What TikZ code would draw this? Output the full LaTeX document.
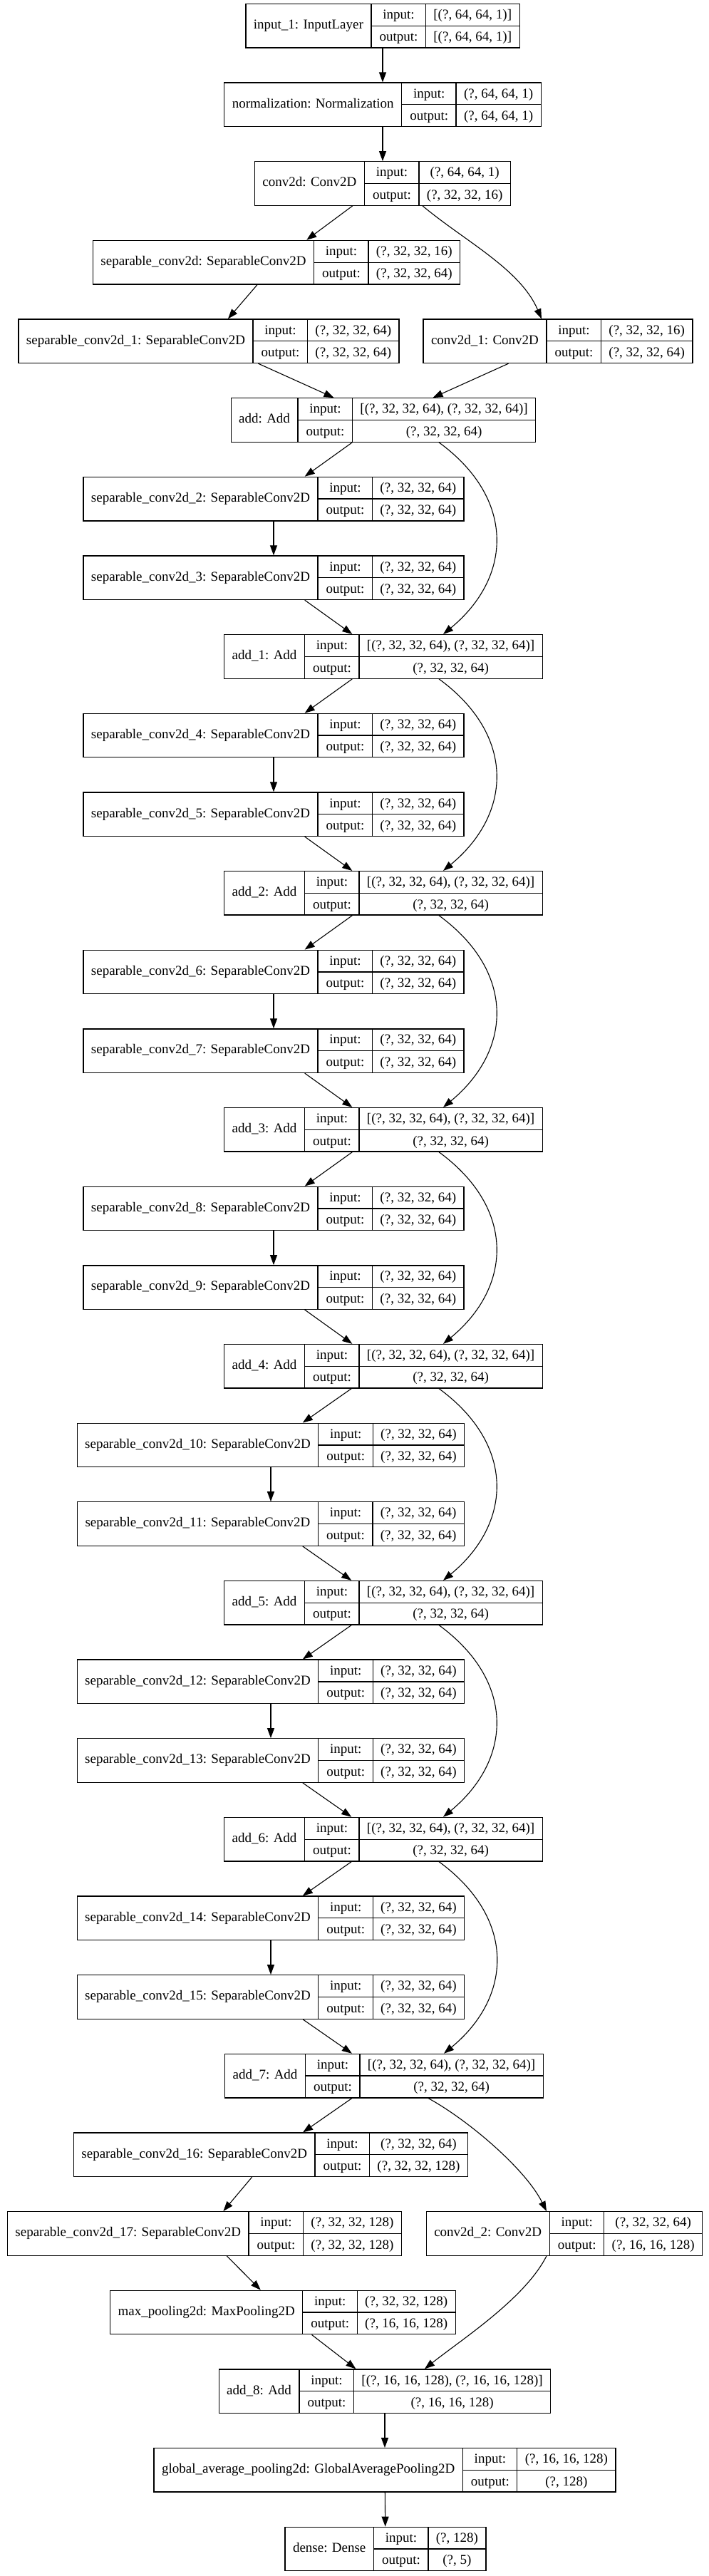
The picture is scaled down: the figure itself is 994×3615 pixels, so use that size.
\documentclass[tikz,border=0pt]{standalone}
\usepackage{fontspec}
\setmainfont{Liberation Serif}
\usetikzlibrary{arrows.meta}
\setlength{\tabcolsep}{11pt}
\setlength{\arrayrulewidth}{1.3pt}
\renewcommand{\arraystretch}{1.32}
% name | input:/output: | shapes
\newcommand{\layerrec}[3]{%
  \begin{tabular}{c|@{}c@{}}
    #1 & \begin{tabular}{c|c} input: & #2 \\ \hline output: & #3 \end{tabular}
  \end{tabular}}
\tikzset{
        % Layer records
        node_layer/.style={rectangle, draw=black, inner sep=0pt, line width=1.3pt, font=\fontsize{19}{22.8}\selectfont},
        % Skip connections
        edge_skip/.style={line width=1.1pt}
}

\begin{document}
\begin{tikzpicture}[
            x=1pt, y=-1pt,
            ->, >={Triangle[length=14pt,width=10pt]},
            line width=1.1pt
        ]
            \useasboundingbox (0,0) rectangle (994,3615);
            \node[node_layer] (input_1) at (537,36.2) {\layerrec{input\_1: InputLayer}{[(?, 64, 64, 1)]}{[(?, 64, 64, 1)]}};
            \node[node_layer] (norm) at (537,146.85) {\layerrec{normalization: Normalization}{(?, 64, 64, 1)}{(?, 64, 64, 1)}};
            \node[node_layer] (conv) at (537,257.5) {\layerrec{conv2d: Conv2D}{(?, 64, 64, 1)}{(?, 32, 32, 16)}};
            \node[node_layer] (sep) at (388,368.15) {\layerrec{separable\_conv2d: SeparableConv2D}{(?, 32, 32, 16)}{(?, 32, 32, 64)}};
            \node[node_layer] (sep_1) at (293,478.8) {\layerrec{separable\_conv2d\_1: SeparableConv2D}{(?, 32, 32, 64)}{(?, 32, 32, 64)}};
            \node[node_layer] (conv_1) at (783,478.8) {\layerrec{conv2d\_1: Conv2D}{(?, 32, 32, 16)}{(?, 32, 32, 64)}};
            \node[node_layer] (add) at (538,589.45) {\layerrec{add: Add}{[(?, 32, 32, 64), (?, 32, 32, 64)]}{(?, 32, 32, 64)}};
            % residual blocks
            \node[node_layer] (sep_2) at (384,700.1) {\layerrec{separable\_conv2d\_2: SeparableConv2D}{(?, 32, 32, 64)}{(?, 32, 32, 64)}};
            \node[node_layer] (sep_3) at (384,810.75) {\layerrec{separable\_conv2d\_3: SeparableConv2D}{(?, 32, 32, 64)}{(?, 32, 32, 64)}};
            \node[node_layer] (add_1) at (538,921.4) {\layerrec{add\_1: Add}{[(?, 32, 32, 64), (?, 32, 32, 64)]}{(?, 32, 32, 64)}};
            \node[node_layer] (sep_4) at (384,1032.05) {\layerrec{separable\_conv2d\_4: SeparableConv2D}{(?, 32, 32, 64)}{(?, 32, 32, 64)}};
            \node[node_layer] (sep_5) at (384,1142.7) {\layerrec{separable\_conv2d\_5: SeparableConv2D}{(?, 32, 32, 64)}{(?, 32, 32, 64)}};
            \node[node_layer] (add_2) at (538,1253.35) {\layerrec{add\_2: Add}{[(?, 32, 32, 64), (?, 32, 32, 64)]}{(?, 32, 32, 64)}};
            \node[node_layer] (sep_6) at (384,1364) {\layerrec{separable\_conv2d\_6: SeparableConv2D}{(?, 32, 32, 64)}{(?, 32, 32, 64)}};
            \node[node_layer] (sep_7) at (384,1474.65) {\layerrec{separable\_conv2d\_7: SeparableConv2D}{(?, 32, 32, 64)}{(?, 32, 32, 64)}};
            \node[node_layer] (add_3) at (538,1585.3) {\layerrec{add\_3: Add}{[(?, 32, 32, 64), (?, 32, 32, 64)]}{(?, 32, 32, 64)}};
            \node[node_layer] (sep_8) at (384,1695.95) {\layerrec{separable\_conv2d\_8: SeparableConv2D}{(?, 32, 32, 64)}{(?, 32, 32, 64)}};
            \node[node_layer] (sep_9) at (384,1806.6) {\layerrec{separable\_conv2d\_9: SeparableConv2D}{(?, 32, 32, 64)}{(?, 32, 32, 64)}};
            \node[node_layer] (add_4) at (538,1917.25) {\layerrec{add\_4: Add}{[(?, 32, 32, 64), (?, 32, 32, 64)]}{(?, 32, 32, 64)}};
            \node[node_layer] (sep_10) at (380,2027.9) {\layerrec{separable\_conv2d\_10: SeparableConv2D}{(?, 32, 32, 64)}{(?, 32, 32, 64)}};
            \node[node_layer] (sep_11) at (380,2138.55) {\layerrec{separable\_conv2d\_11: SeparableConv2D}{(?, 32, 32, 64)}{(?, 32, 32, 64)}};
            \node[node_layer] (add_5) at (538,2249.2) {\layerrec{add\_5: Add}{[(?, 32, 32, 64), (?, 32, 32, 64)]}{(?, 32, 32, 64)}};
            \node[node_layer] (sep_12) at (380,2359.85) {\layerrec{separable\_conv2d\_12: SeparableConv2D}{(?, 32, 32, 64)}{(?, 32, 32, 64)}};
            \node[node_layer] (sep_13) at (380,2470.5) {\layerrec{separable\_conv2d\_13: SeparableConv2D}{(?, 32, 32, 64)}{(?, 32, 32, 64)}};
            \node[node_layer] (add_6) at (538,2581.15) {\layerrec{add\_6: Add}{[(?, 32, 32, 64), (?, 32, 32, 64)]}{(?, 32, 32, 64)}};
            \node[node_layer] (sep_14) at (380,2691.8) {\layerrec{separable\_conv2d\_14: SeparableConv2D}{(?, 32, 32, 64)}{(?, 32, 32, 64)}};
            \node[node_layer] (sep_15) at (380,2802.45) {\layerrec{separable\_conv2d\_15: SeparableConv2D}{(?, 32, 32, 64)}{(?, 32, 32, 64)}};
            \node[node_layer] (add_7) at (539,2913.1) {\layerrec{add\_7: Add}{[(?, 32, 32, 64), (?, 32, 32, 64)]}{(?, 32, 32, 64)}};
            % downsampling head
            \node[node_layer] (sep_16) at (380,3023.75) {\layerrec{separable\_conv2d\_16: SeparableConv2D}{(?, 32, 32, 64)}{(?, 32, 32, 128)}};
            \node[node_layer] (sep_17) at (287,3134.4) {\layerrec{separable\_conv2d\_17: SeparableConv2D}{(?, 32, 32, 128)}{(?, 32, 32, 128)}};
            \node[node_layer] (conv_2) at (792,3134.4) {\layerrec{conv2d\_2: Conv2D}{(?, 32, 32, 64)}{(?, 16, 16, 128)}};
            \node[node_layer] (pool) at (397,3245.05) {\layerrec{max\_pooling2d: MaxPooling2D}{(?, 32, 32, 128)}{(?, 16, 16, 128)}};
            \node[node_layer] (add_8) at (540,3355.7) {\layerrec{add\_8: Add}{[(?, 16, 16, 128), (?, 16, 16, 128)]}{(?, 16, 16, 128)}};
            \node[node_layer] (gap) at (540,3466.35) {\layerrec{global\_average\_pooling2d: GlobalAveragePooling2D}{(?, 16, 16, 128)}{(?, 128)}};
            \node[node_layer] (dense) at (541,3577) {\layerrec{dense: Dense}{(?, 128)}{(?, 5)}};

            \draw (input_1) -- (norm);
            \draw (norm) -- (conv);
            \draw (conv) -- (sep);
            \draw[edge_skip] ([xshift=56pt]conv.south) .. controls +(60,50) and +(-30,-70) .. ([xshift=-23pt]conv_1.north);
            \draw (sep) -- (sep_1);
            \draw (sep_1) -- (add);
            \draw (conv_1) -- (add);

            \draw (add) -- (sep_2);
            \draw (sep_2) -- (sep_3);
            \draw (sep_3) -- (add_1);
            \draw[edge_skip] ([xshift=78pt]add.south) .. controls +(108,79) and +(97,-80) .. ([xshift=84pt]add_1.north);
            \draw (add_1) -- (sep_4);
            \draw (sep_4) -- (sep_5);
            \draw (sep_5) -- (add_2);
            \draw[edge_skip] ([xshift=78pt]add_1.south) .. controls +(108,79) and +(97,-80) .. ([xshift=84pt]add_2.north);
            \draw (add_2) -- (sep_6);
            \draw (sep_6) -- (sep_7);
            \draw (sep_7) -- (add_3);
            \draw[edge_skip] ([xshift=78pt]add_2.south) .. controls +(108,79) and +(97,-80) .. ([xshift=84pt]add_3.north);
            \draw (add_3) -- (sep_8);
            \draw (sep_8) -- (sep_9);
            \draw (sep_9) -- (add_4);
            \draw[edge_skip] ([xshift=78pt]add_3.south) .. controls +(108,79) and +(97,-80) .. ([xshift=84pt]add_4.north);
            \draw (add_4) -- (sep_10);
            \draw (sep_10) -- (sep_11);
            \draw (sep_11) -- (add_5);
            \draw[edge_skip] ([xshift=78pt]add_4.south) .. controls +(108,79) and +(97,-80) .. ([xshift=84pt]add_5.north);
            \draw (add_5) -- (sep_12);
            \draw (sep_12) -- (sep_13);
            \draw (sep_13) -- (add_6);
            \draw[edge_skip] ([xshift=78pt]add_5.south) .. controls +(108,79) and +(97,-80) .. ([xshift=84pt]add_6.north);
            \draw (add_6) -- (sep_14);
            \draw (sep_14) -- (sep_15);
            \draw (sep_15) -- (add_7);
            \draw[edge_skip] ([xshift=78pt]add_6.south) .. controls +(108,79) and +(97,-80) .. ([xshift=84pt]add_7.north);

            \draw (add_7) -- (sep_16);
            \draw (sep_16) -- (sep_17);
            \draw[edge_skip] ([xshift=62pt]add_7.south) .. controls +(55,30) and +(-30,-60) .. ([xshift=-25pt]conv_2.north);
            \draw (sep_17) -- (pool);
            \draw (pool) -- (add_8);
            \draw[edge_skip] ([xshift=-25pt]conv_2.south) .. controls +(-30,60) and +(50,-40) .. ([xshift=56pt]add_8.north);
            \draw (add_8) -- (gap);
            \draw (gap) -- (dense);
        \end{tikzpicture}
\end{document}
